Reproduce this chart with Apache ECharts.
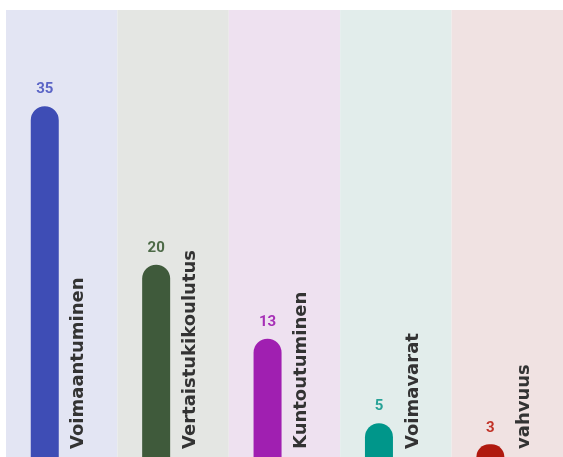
<!DOCTYPE html>
<html><head><meta charset="utf-8">
<script src="https://cdn.jsdelivr.net/npm/echarts@6/dist/echarts.min.js"></script>
<style>html,body{margin:0;padding:0;background:#fff}#c{width:563px;height:457px}</style>
</head><body><div id="c"></div>
<script>
const categories = ['Voimaantuminen','Vertaistukikoulutus','Kuntoutuminen','Voimavarat','vahvuus'];
const values = [35, 20, 13, 5, 3];
const barColors = ['#3e4db5','#3f5a3b','#a01fb1','#00968a','#b0190f'];
const labelColors = ['#5b65c6','#4d6a47','#a62fb6','#27a296','#c23328'];
const bandColors = ['#e3e5f3','#e4e6e3','#eee1f0','#e2edeb','#f0e2e2'];

const chart = echarts.init(document.getElementById('c'));
chart.setOption({
  animation:false,
  grid:{left:6,right:0,top:10,bottom:0,containLabel:false},
  xAxis:{type:'category',data:categories,
    axisLine:{show:false},axisTick:{show:false,interval:0},axisLabel:{show:false,interval:0},
    splitLine:{show:false},
    splitArea:{show:true,interval:0,areaStyle:{color:bandColors}}},
  yAxis:{type:'value',min:1.8,max:44.1,show:false,splitLine:{show:false}},
  series:[
    {type:'bar',barWidth:28,barGap:'21%',
     data:values.map((v,i)=>({value:v,itemStyle:{color:barColors[i],borderRadius:[14,14,0,0]},
       label:{color:labelColors[i]}})),
     label:{show:true,position:'top',distance:9,fontFamily:'Roboto',fontWeight:'bold',fontSize:15}},
    {type:'bar',barWidth:28,
     data:values,
     itemStyle:{color:'rgba(0,0,0,0)'},
     label:{show:true,position:'insideBottom',distance:8,rotate:90,align:'left',verticalAlign:'middle',
       formatter:p=>categories[p.dataIndex],
       color:'#333',fontFamily:'DejaVu Sans',fontWeight:'bold',fontSize:18}}
  ]
});
</script></body></html>
